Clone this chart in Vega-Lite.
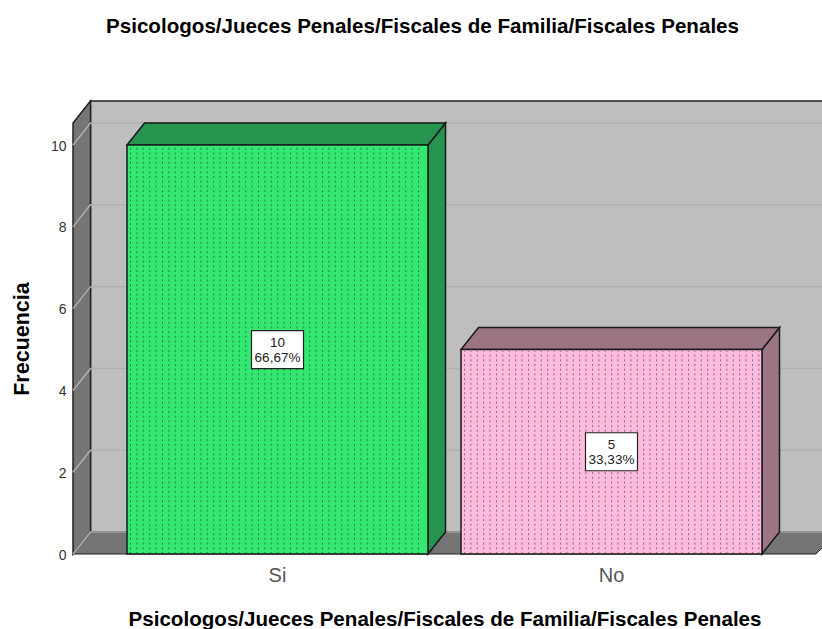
{
"$schema":"https://vega.github.io/schema/vega-lite/v6.json",
"width":743,"height":431,
"autosize":"none",
"padding":{"left":73,"top":123,"right":6,"bottom":75},
"background":"white",
"config":{"view":{"stroke":null},"font":"Liberation Sans"},
"title":{"text":"Psicologos/Jueces Penales/Fiscales de Familia/Fiscales Penales","font":"Liberation Sans","fontSize":20.6,"fontWeight":"bold","color":"black","anchor":"middle","dx":-22,"offset":60},
"datasets":{
"frecuencias":[
{"Categoria":"Si","Frecuencia":10,"Etiqueta":"10\n66,67%"},
{"Categoria":"No","Frecuencia":5,"Etiqueta":"5\n33,33%"}
],
"base":[{"Categoria":"Si","Frecuencia":0}],
"marcas":[{"Frecuencia":0},{"Frecuencia":2},{"Frecuencia":4},{"Frecuencia":6},{"Frecuencia":8},{"Frecuencia":10}]
},
"encoding":{
"x":{"field":"Categoria","type":"nominal","sort":["Si","No"],
"scale":{"domain":["Si","No"],"paddingInner":0.0988,"paddingOuter":0.1617},
"axis":{"title":"Psicologos/Jueces Penales/Fiscales de Familia/Fiscales Penales","titleFont":"Liberation Sans","titleFontSize":20.6,"titleFontWeight":"bold","titleColor":"black","titlePadding":24,"labelFont":"Liberation Sans","labelFontSize":20,"labelColor":"#555555","labelAngle":0,"labelPadding":11,"domain":false,"ticks":false,"grid":false}}
},
"layer":[
{"resolve":{"scale":{"shape":"independent","fill":"independent"}},
"encoding":{"y":{"field":"Frecuencia","type":"quantitative","scale":{"domain":[0,10.54],"nice":false},
"axis":{"values":[0,2,4,6,8,10],"title":"Frecuencia","titleFont":"Liberation Sans","titleFontSize":21.5,"titleFontWeight":"bold","titleColor":"black","titlePadding":17,"labelFont":"Liberation Sans","labelFontSize":14,"labelColor":"#333333","labelPadding":7,"labelOffset":1,"domain":false,"ticks":false,"grid":false}}},
"layer":[
{"data":{"name":"base"},
"mark":{"type":"point","filled":true,"opacity":1,"size":4,"fill":"#BEBEBE","stroke":"#222222","strokeWidth":1.5,"shape":"M-187,-453H560V-22H-187Z"}},
{"data":{"name":"base"},
"mark":{"type":"point","filled":true,"opacity":1,"size":4,"fill":"#757575","stroke":"#222222","strokeWidth":1.5,"shape":"M-204.5,0V-431L-187,-453V-22Z"}},
{"data":{"name":"base"},
"mark":{"type":"point","filled":true,"opacity":1,"size":4,"fill":"#757575","stroke":"#222222","strokeWidth":1,"shape":"M-204.5,0L-187,-22H560L538.5,0Z"}},
{"data":{"name":"marcas"},
"encoding":{"x":{"datum":"Si"}},
"mark":{"type":"point","filled":false,"opacity":1,"size":4,"stroke":"#B0B0B0","strokeWidth":1.5,"shape":"M-204.5,0L-187,-22H560"}},
{"data":{"name":"frecuencias"},
"mark":{"type":"point","filled":true,"opacity":1,"stroke":"#1a1a1a","strokeWidth":1.5,"size":4},
"encoding":{"y":{"datum":0},
"shape":{"field":"Categoria","type":"nominal","legend":null,"scale":{"domain":["Si","No"],"range":["M150.5,0V-409L168,-431V-22Z","M150.5,0V-204.5L168,-226.5V-22Z"]}},
"fill":{"field":"Categoria","type":"nominal","legend":null,"scale":{"domain":["Si","No"],"range":["#26944F","#9C7585"]}}}},
{"data":{"name":"frecuencias"},
"mark":{"type":"point","filled":true,"opacity":1,"stroke":"#1a1a1a","strokeWidth":1.5,"size":4,"shape":"M-150.5,0L-133,-22H168L150.5,0Z"},
"encoding":{
"fill":{"field":"Categoria","type":"nominal","legend":null,"scale":{"domain":["Si","No"],"range":["#26944F","#9C7585"]}}}},
{"data":{"name":"frecuencias"},
"mark":{"type":"bar","stroke":"#1a1a1a","strokeWidth":1.5},
"encoding":{
"fill":{"field":"Categoria","type":"nominal","legend":null,"scale":{"domain":["Si","No"],"range":["#33E870","#FFBBDD"]}}}},
{"data":{"name":"frecuencias"},
"mark":{"type":"point","filled":false,"opacity":1,"stroke":"#333333","strokeWidth":1,"strokeOpacity":0.6,"strokeDash":[2,2.7],"size":4},
"encoding":{"y":{"datum":0},
"shape":{"field":"Categoria","type":"nominal","legend":null,"scale":{"domain":["Si","No"],"range":[
"M-147,0v-408m6.4,408v-408m6.4,408v-408m6.4,408v-408m6.4,408v-408m6.4,408v-408m6.4,408v-408m6.4,408v-408m6.4,408v-408m6.4,408v-408m6.4,408v-408m6.4,408v-408m6.4,408v-408m6.4,408v-408m6.4,408v-408m6.4,408v-408m6.4,408v-408m6.4,408v-408m6.4,408v-408m6.4,408v-408m6.4,408v-408m6.4,408v-408m6.4,408v-408m6.4,408v-408m6.4,408v-408m6.4,408v-408m6.4,408v-408m6.4,408v-408m6.4,408v-408m6.4,408v-408m6.4,408v-408m6.4,408v-408m6.4,408v-408m6.4,408v-408m6.4,408v-408m6.4,408v-408m6.4,408v-408m6.4,408v-408m6.4,408v-408m6.4,408v-408m6.4,408v-408m6.4,408v-408m6.4,408v-408m6.4,408v-408m6.4,408v-408m6.4,408v-408",
"M-147,0v-203m6.4,203v-203m6.4,203v-203m6.4,203v-203m6.4,203v-203m6.4,203v-203m6.4,203v-203m6.4,203v-203m6.4,203v-203m6.4,203v-203m6.4,203v-203m6.4,203v-203m6.4,203v-203m6.4,203v-203m6.4,203v-203m6.4,203v-203m6.4,203v-203m6.4,203v-203m6.4,203v-203m6.4,203v-203m6.4,203v-203m6.4,203v-203m6.4,203v-203m6.4,203v-203m6.4,203v-203m6.4,203v-203m6.4,203v-203m6.4,203v-203m6.4,203v-203m6.4,203v-203m6.4,203v-203m6.4,203v-203m6.4,203v-203m6.4,203v-203m6.4,203v-203m6.4,203v-203m6.4,203v-203m6.4,203v-203m6.4,203v-203m6.4,203v-203m6.4,203v-203m6.4,203v-203m6.4,203v-203m6.4,203v-203m6.4,203v-203m6.4,203v-203m6.4,203v-203"]}}}}
]},
{"data":{"name":"frecuencias"},
"encoding":{"y":{"field":"Frecuencia","type":"quantitative","scale":{"domain":[0,21.08],"nice":false},"axis":null}},
"layer":[
{"mark":{"type":"point","filled":true,"opacity":1,"size":4,"fill":"white","stroke":"#222222","strokeWidth":1.2,"shape":"M-26,-19H26V19H-26Z"}},
{"mark":{"type":"text","font":"Liberation Sans","fontSize":13.5,"lineHeight":15,"lineBreak":"\n","color":"#222222","align":"center","baseline":"middle","dy":-6.5},
"encoding":{"text":{"field":"Etiqueta"}}}
]}
],
"resolve":{"scale":{"y":"independent"}}
}
